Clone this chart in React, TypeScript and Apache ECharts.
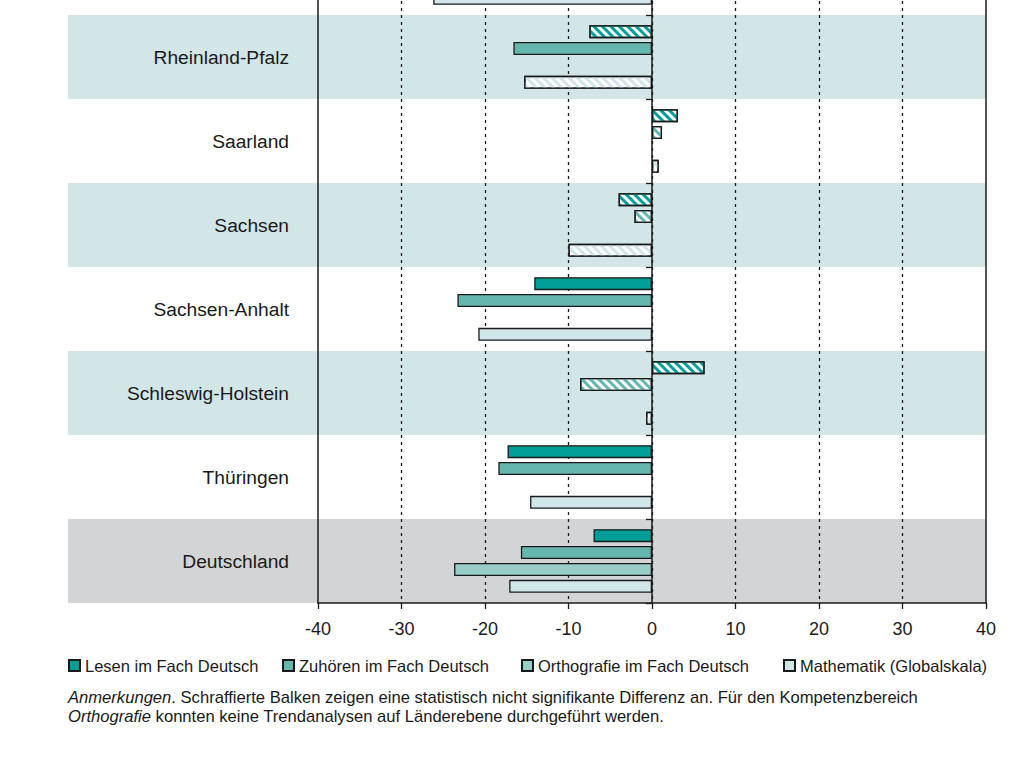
import React, { useEffect, useRef } from "react";
import * as echarts from "echarts";

const categories = [
  "Nordrhein-Westfalen",
  "Rheinland-Pfalz",
  "Saarland",
  "Sachsen",
  "Sachsen-Anhalt",
  "Schleswig-Holstein",
  "Thüringen",
  "Deutschland",
];
const bandColors = ["#ffffff", "#d2e6e8", "#ffffff", "#d2e6e8", "#ffffff", "#d2e6e8", "#ffffff", "#d3d4d6"];

const seriesNames = [
  "Lesen im Fach Deutsch",
  "Zuhören im Fach Deutsch",
  "Orthografie im Fach Deutsch",
  "Mathematik (Globalskala)",
];
const seriesColors = ["#009e96", "#66b6b0", "#99cdc8", "#d1e6e8"];

const lesen = [null, -7.5, 3.1, -4.0, -14.1, 6.3, -17.3, -7.0];
const lesenSig = [true, false, false, false, true, false, true, true];
const zuhoeren = [null, -16.6, 1.2, -2.1, -23.3, -8.6, -18.4, -15.7];
const zuhoerenSig = [true, true, false, false, true, false, true, true];
const ortho = [null, null, null, null, null, null, null, -23.7];
const orthoSig = [true, true, true, true, true, true, true, true];
const mathe = [-26.2, -15.3, 0.8, -10.0, -20.8, -0.7, -14.6, -17.1];
const matheSig = [true, false, false, false, true, false, true, true];

const xTicks = { min: -40, max: 40, interval: 10 };
const legendLefts = [63, 277, 516, 778];

const SHIFT = 69; // top category is cut off by the page edge
const FONT = "'Liberation Sans', Arial, sans-serif";
const TEXT = "#1a1a1a";
const LINE = "#1a1a1a";

function hatch(color: string) {
  return {
    symbol: "rect",
    symbolSize: 1,
    color,
    dashArrayX: [1, 0],
    dashArrayY: [3, 3],
    rotation: Math.PI / 4,
  };
}

function makeBar(idx: number, values: (number | null)[], sig: boolean[]) {
  const color = seriesColors[idx];
  return {
    type: "bar",
    name: seriesNames[idx],
    yAxisIndex: 0,
    barWidth: 13,
    barGap: "30%",
    z: 2,
    itemStyle: { color, borderColor: LINE, borderWidth: 1.3 },
    data: values.map((v, i) =>
      v === null
        ? null
        : sig[i]
        ? { value: v }
        : { value: v, itemStyle: { color: "#ffffff", borderColor: LINE, borderWidth: 1.3, decal: hatch(color) } }
    ),
  };
}

export default function App() {
  const ref = useRef<HTMLDivElement>(null);
  useEffect(() => {
    if (!ref.current) return;
    const chart = echarts.init(ref.current, null, { renderer: "svg" });
    const bars = [
      makeBar(0, lesen, lesenSig),
      makeBar(1, zuhoeren, zuhoerenSig),
      makeBar(2, ortho, orthoSig),
      makeBar(3, mathe, matheSig),
    ];
    (bars[3] as any).markLine = {
      silent: true,
      symbol: "none",
      label: { show: false },
      lineStyle: { color: LINE, type: "solid", width: 1.5 },
      data: [{ xAxis: xTicks.max }],
    };
    chart.setOption({
      animation: false,
      backgroundColor: "#ffffff",
      grid: { left: 318, right: 26, top: 0, bottom: 155, containLabel: false },
      xAxis: {
        type: "value",
        min: xTicks.min,
        max: xTicks.max,
        interval: xTicks.interval,
        axisLine: { show: true, onZero: false, lineStyle: { color: LINE, width: 1.5 } },
        axisTick: { show: true, length: 6, lineStyle: { color: LINE, width: 1.3 } },
        axisLabel: { fontSize: 18, color: TEXT, fontFamily: FONT, margin: 17 },
        splitLine: {
          show: true,
          showMinLine: false,
          showMaxLine: false,
          lineStyle: { color: LINE, type: [3, 4], width: 1.3 },
        },
      },
      yAxis: [
        {
          type: "category",
          inverse: true,
          data: categories,
          position: "left",
          axisLine: { show: true, onZero: false, lineStyle: { color: LINE, width: 1.5 } },
          axisTick: { show: false },
          axisLabel: {
            fontSize: 19.2,
            color: TEXT,
            fontFamily: FONT,
            margin: 29,
            // the first category lies above the page edge, so its label is not drawn
            interval: (i: number) => i > 0,
          },
          splitLine: { show: false },
        },
        {
          type: "category",
          inverse: true,
          data: categories,
          position: "left",
          axisLine: { show: true, onZero: true, lineStyle: { color: LINE, width: 1.5 } },
          axisTick: { show: true, length: 6, inside: false, interval: 0, lineStyle: { color: LINE, width: 1.3 } },
          axisLabel: { show: false },
          splitLine: { show: false },
        },
      ],
      legend: seriesNames.map((n, i) => ({
        data: [n],
        left: legendLefts[i],
        top: 652 + SHIFT,
        itemWidth: 11,
        itemHeight: 11,
        icon: "rect",
        textStyle: { fontSize: 16.5, color: TEXT, fontFamily: FONT },
        selectedMode: false,
      })),
      graphic: [
        {
          type: "text",
          left: 68,
          top: 688 + SHIFT,
          style: {
            text:
              "{i|Anmerkungen}. Schraffierte Balken zeigen eine statistisch nicht signifikante Differenz an. Für den Kompetenzbereich\n{i|Orthografie} konnten keine Trendanalysen auf Länderebene durchgeführt werden.",
            fontSize: 16.6,
            lineHeight: 19,
            fontFamily: FONT,
            fill: TEXT,
            rich: {
              i: { fontStyle: "italic", fontSize: 16.6, lineHeight: 19, fontFamily: FONT, fill: TEXT },
            },
          },
        },
      ],
      series: [
        {
          type: "custom",
          yAxisIndex: 0,
          z: -1,
          silent: true,
          clip: false,
          encode: { x: 0, y: 1 },
          data: categories.map((_, i) => [0, i]),
          renderItem: (params: any, api: any) => {
            const i = api.value(1);
            const l = api.coord([xTicks.min, i]);
            const r = api.coord([xTicks.max, i]);
            const h = api.size([0, 1])[1];
            return {
              type: "rect",
              shape: { x: l[0] - 250, y: l[1] - h / 2, width: r[0] - l[0] + 250, height: h },
              style: { fill: bandColors[i] },
            };
          },
        },
        ...bars,
      ],
    });
    return () => chart.dispose();
  }, []);
  return (
    <div
      ref={ref}
      style={{ position: "fixed", left: 0, top: -SHIFT, width: 1012, height: 758 + SHIFT, background: "#fff" }}
    />
  );
}
